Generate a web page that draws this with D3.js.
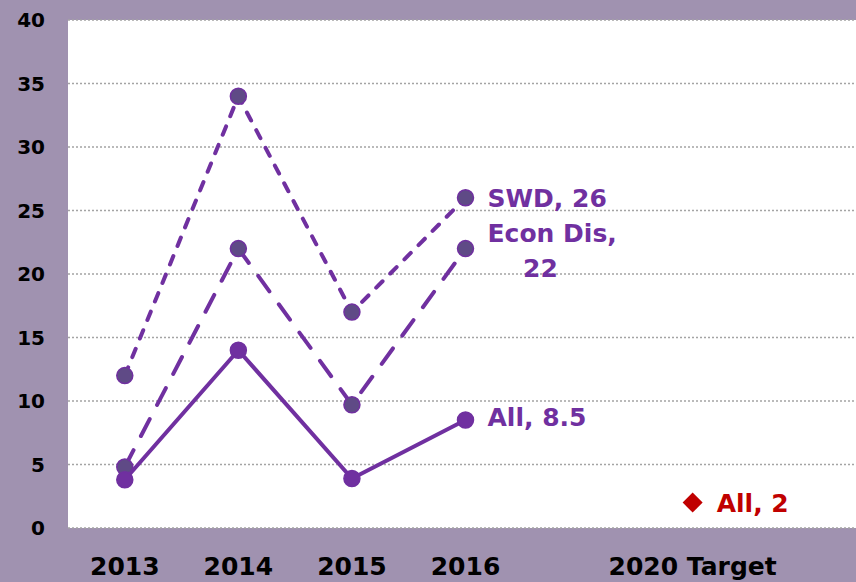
<!DOCTYPE html>
<html>
<head>
<meta charset="utf-8">
<script src="https://cdn.jsdelivr.net/npm/d3@7"></script>
<style>
  body { margin: 0; background: #a092b0; }
  svg { display: block; font-family: "DejaVu Sans", sans-serif; font-weight: bold; }
</style>
</head>
<body>
<svg id="chart"></svg>
<script>
// chart data
const slots = ["2013", "2014", "2015", "2016", "gap", "2020 Target", "end"];
const years = ["2013", "2014", "2015", "2016"];
const swd = [12, 34, 17, 26];
const econDis = [4.8, 22, 9.7, 22];
const allStudents = [3.8, 14, 3.9, 8.5];
const target = [{ slot: "2020 Target", value: 2 }];
const yTicks = [0, 5, 10, 15, 20, 25, 30, 35, 40];

const W = 856, H = 582;
const m = { left: 68, top: 20, right: -7, bottom: 54 };
const PURPLE = "#7030a0", DARK = "#5f4a86", RED = "#c00000";

const svg = d3.select("#chart").attr("width", W).attr("height", H);

const x = d3.scaleBand().domain(slots).range([m.left, W - m.right]);
const y = d3.scaleLinear().domain([0, 40]).range([H - m.bottom, m.top]);
const cx = d => x(d) + x.bandwidth() / 2;

svg.append("rect").attr("x", m.left).attr("y", m.top)
  .attr("width", W - m.left).attr("height", y(0) - m.top).attr("fill", "#fff");

// gridlines
svg.append("g").selectAll("line").data(yTicks).join("line")
  .attr("x1", m.left).attr("x2", W).attr("y1", d => y(d)).attr("y2", d => y(d))
  .attr("stroke", "#a4a4a4").attr("stroke-width", 1.6).attr("stroke-dasharray", "2,2");

// y axis labels
svg.append("g").selectAll("text").data(yTicks).join("text")
  .attr("x", 45).attr("y", d => y(d)).attr("dy", "0.36em")
  .attr("text-anchor", "end").attr("font-size", 20).attr("fill", "#000")
  .text(d => d);

// x axis labels
svg.append("g").selectAll("text").data(slots.filter(s => s !== "gap" && s !== "end")).join("text")
  .attr("x", d => cx(d)).attr("y", 566).attr("dy", "0.36em")
  .attr("text-anchor", "middle").attr("font-size", 25).attr("fill", "#000")
  .text(d => d);

const line = d3.line().x((d, i) => cx(years[i])).y(d => y(d));

function series(vals, dash, markerFill) {
  svg.append("path").datum(vals).attr("d", line)
    .attr("fill", "none").attr("stroke", PURPLE).attr("stroke-width", 4)
    .attr("stroke-linecap", "round").attr("stroke-dasharray", dash);
  svg.append("g").selectAll("circle").data(vals).join("circle")
    .attr("cx", (d, i) => cx(years[i])).attr("cy", d => y(d)).attr("r", 8)
    .attr("fill", markerFill).attr("stroke", PURPLE).attr("stroke-width", 1.5);
}

series(swd, "9,11", DARK);
series(econDis, "19,16", DARK);
series(allStudents, null, PURPLE);

// target marker
svg.append("g").selectAll("path").data(target).join("path")
  .attr("d", d3.symbol(d3.symbolSquare, 200))
  .attr("transform", d => `translate(${cx(d.slot)},${y(d.value)}) rotate(45)`)
  .attr("fill", RED);

// labels
const lbl = (tx, ty, t, col, anchor) => svg.append("text")
  .attr("x", tx).attr("y", ty).attr("dy", "0.36em").attr("font-size", 25)
  .attr("fill", col).attr("text-anchor", anchor || "start").text(t);

lbl(cx("2016") + 22, y(26), "SWD, 26", PURPLE);
lbl(cx("2016") + 22, y(22) - 16, "Econ Dis,", PURPLE);
lbl(cx("2016") + 75, y(22) + 19, "22", PURPLE, "middle");
lbl(cx("2016") + 22, y(8.5) - 3, "All, 8.5", PURPLE);
lbl(cx("2020 Target") + 24, y(2), "All, 2", RED);
</script>
</body>
</html>
